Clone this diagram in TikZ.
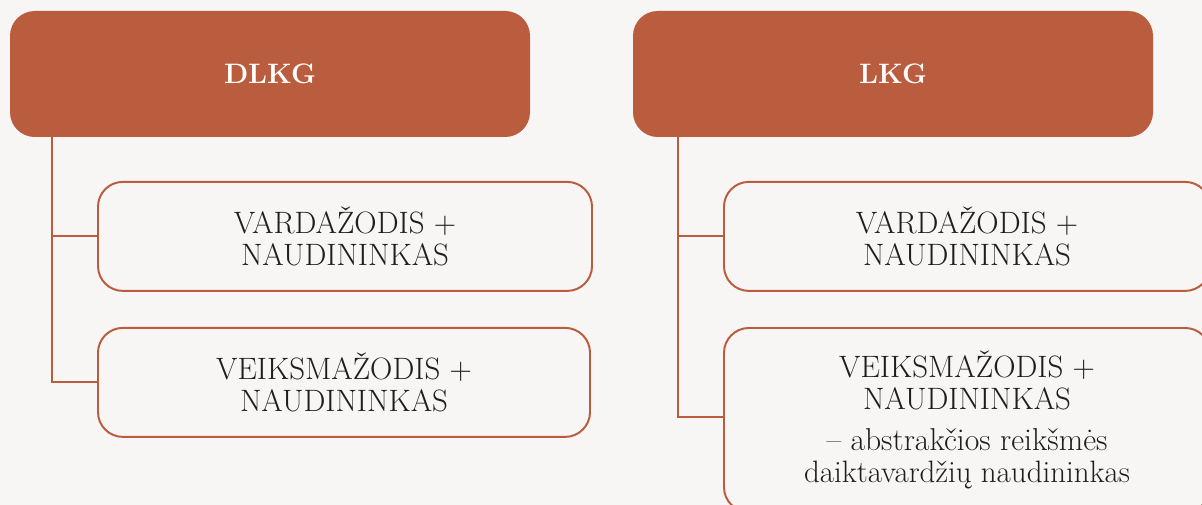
\documentclass[tikz,border=0pt]{standalone}
\usepackage{fontspec}
\usepackage{xcolor}
\usetikzlibrary{positioning}

\definecolor{rust}{HTML}{BA5C3E}
\definecolor{paper}{HTML}{F7F6F4}
\definecolor{ink}{HTML}{1E1E1E}

\tikzset{
    header/.style={fill=rust, rounded corners=0.62cm, minimum width=13cm,
        minimum height=3.15cm, text=white, font=\bfseries\fontsize{20}{24}\selectfont},
    item/.style={draw=rust, line width=1.4pt, fill=paper, rounded corners=0.62cm,
        minimum height=2.725cm, text=ink, align=center,
        font=\fontsize{22}{22.5}\selectfont},
    branch/.style={draw=rust, line width=1.4pt}
}

\begin{document}
\begin{tikzpicture}
    % Background
    \fill[paper] (0,0) rectangle (30.05,-12.625);
    \useasboundingbox (0,0) rectangle (30.05,-12.625);
    \clip (0,0) rectangle (30.05,-12.625);

    % Headers
    \node[header] (dlkg) at (6.75,-1.85) {DLKG};
    \node[header] (lkg) at (22.325,-1.85) {LKG};

    % DLKG items
    \node[item, minimum width=12.35cm] (dvard) at (8.625,-5.91) {VARDAŽODIS +\\NAUDININKAS};
    \node[item, minimum width=12.3cm] (dveiks) at (8.6,-9.56) {VEIKSMAŽODIS +\\NAUDININKAS};

    % LKG items
    \node[item, minimum width=12.15cm, minimum height=4.6cm] (lveiks) at (24.175,-10.5)
        {VEIKSMAŽODIS +\\NAUDININKAS\\[7pt]
         \fontsize{22.5}{24}\selectfont -- abstrakčios reikšmės\\daiktavardžių naudininkas};
    \node[item, minimum width=12.15cm] (lvard) at (24.175,-5.91) {VARDAŽODIS +\\NAUDININKAS};

    % Connectors
    \coordinate (dtop) at ([xshift=1.05cm]dlkg.south west);
    \coordinate (ltop) at ([xshift=1.125cm]lkg.south west);
    \draw[branch] (dtop) |- (dvard.west);
    \draw[branch] (dtop) |- (dveiks.west);
    \draw[branch] (ltop) |- (lvard.west);
    \draw[branch] (ltop) |- ([yshift=0.075cm]lveiks.west);
\end{tikzpicture}
\end{document}
